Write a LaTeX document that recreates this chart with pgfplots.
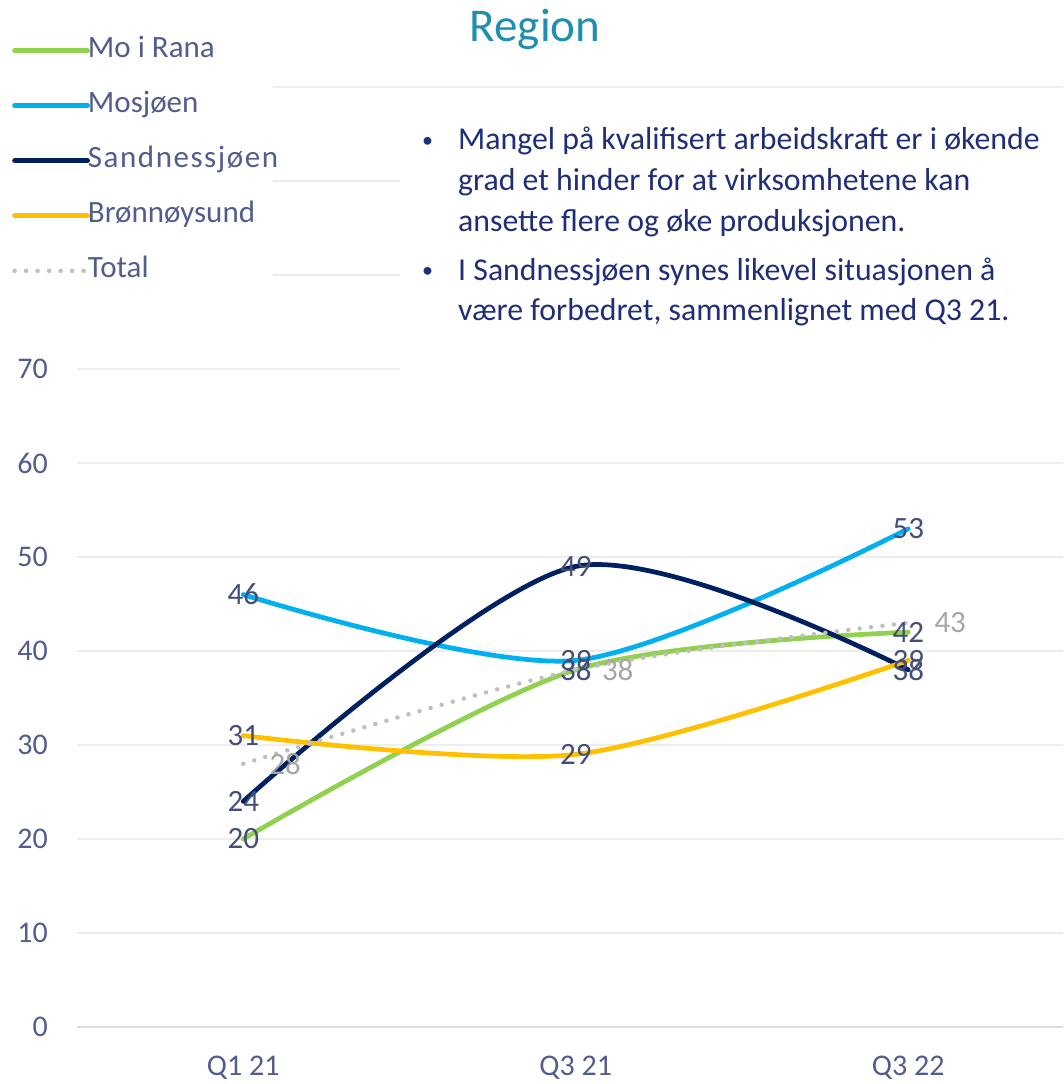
\documentclass[border=0pt]{standalone}
\usepackage{fontspec}
\setmainfont{Carlito}
\usepackage{pgfplots}
\pgfplotsset{compat=1.18}
\definecolor{cgreen}{HTML}{92D050}
\definecolor{cblue}{HTML}{00B0F0}
\definecolor{cnavy}{HTML}{002060}
\definecolor{cyellow}{HTML}{FFC000}
\definecolor{cgray}{HTML}{BFBFBF}
\definecolor{labgray}{HTML}{A6A6A6}
\definecolor{ticktext}{RGB}{83,93,140}
\definecolor{labtext}{RGB}{68,78,120}
\definecolor{titlecol}{RGB}{31,143,176}
\definecolor{bulletcol}{RGB}{32,46,120}
\definecolor{gridcol}{HTML}{EDEDED}
\definecolor{zerocol}{HTML}{D9DCE6}
\newcommand{\bul}{{\fontsize{22}{22}\selectfont\hspace*{3pt}\raisebox{2.5pt}{•}}}
\begin{document}
\begin{tikzpicture}[x=1pt,y=1pt]
\path[use as bounding box] (0,0) rectangle (1063,1084);
\begin{axis}[
  at={(77pt,57pt)}, anchor=south west,
  scale only axis, width=986pt, height=940pt,
  xmin=-0.5, xmax=2.4654, ymin=0, ymax=100,
  axis line style={draw=none},
  ytick={0,10,...,70}, extra y ticks={80,90,100}, extra y tick labels={},
  ymajorgrids, major grid style={gridcol, line width=1.5pt},
  xtick={0,1,2}, xticklabels={Q1 21, Q3 21, Q3 22},
  major tick length=0pt,
  tick label style={font=\fontsize{30}{36}\selectfont, text=ticktext},
  /pgf/number format/assume math mode=true,
  yticklabel style={inner sep=0pt, xshift=-29pt},
  xticklabel style={inner sep=0pt, yshift=-29pt},
  legend style={at={(axis description cs:-0.0659,1.0541)}, anchor=north west,
    draw=none, fill=none, inner sep=0pt, row sep=26pt, column sep=-2pt,
    font=\fontsize{31}{37}\selectfont, text=ticktext,
    nodes={inner sep=0pt, text height=21pt, text depth=8pt}},
  legend cell align=left,
  legend image code/.code={\draw[#1] (0pt,0pt) -- (73pt,0pt);},
  every node near coord/.append style={anchor=center, inner sep=0pt, font=\fontsize{31}{37}\selectfont, text=labtext},
]
\fill[white] (axis cs:-0.5,75) rectangle (axis cs:0.0895,101);
\fill[white] (axis cs:0.4714,68.6) rectangle (axis cs:2.5,99.2);
\draw[zerocol, line width=2pt] (axis cs:-0.5,0) -- (axis cs:2.5,0);
\addplot[cgreen, line width=4.75pt, line cap=round, smooth, nodes near coords] coordinates {(0,20)(1,38)(2,42)};
\addlegendentry{Mo i Rana}
\addplot[cblue, line width=4.75pt, line cap=round, smooth, nodes near coords] coordinates {(0,46)(1,39)(2,53)};
\addlegendentry{Mosjøen}
\addplot[cnavy, line width=4.75pt, line cap=round, smooth, nodes near coords] coordinates {(0,24)(1,49)(2,38)};
\addlegendentry{{\addfontfeature{LetterSpace=5}Sandnessjøen}}
\addplot[cyellow, line width=4.75pt, line cap=round, smooth, nodes near coords] coordinates {(0,31)(1,29)(2,39)};
\addlegendentry{Brønnøysund}
\addplot[cgray, line width=4.5pt, line cap=round, dash pattern=on 0pt off 11.5pt, smooth, nodes near coords,
  every node near coord/.append style={anchor=west, xshift=24pt, text=labgray}] coordinates {(0,28)(1,38)(2,43)};
\addlegendentry{Total}
\end{axis}
\node[anchor=base, inner sep=0pt, text=titlecol, font=\fontsize{47}{56}\selectfont] at (535,1042) {Region};
\node[anchor=base west, inner sep=0pt, text=bulletcol, font=\fontsize{31.8}{40.7}\selectfont] at (419,934) {%
\begin{tabular}[t]{@{}p{39pt}@{}l@{}}
\bul & Mangel på kvalifisert arbeidskraft er i økende\\
  & grad et hinder for at virksomhetene kan\\
  & ansette flere og øke produksjonen.\\[8.2pt]
\bul & I Sandnessjøen synes likevel situasjonen å\\
  & være forbedret, sammenlignet med Q3 21.
\end{tabular}};
\end{tikzpicture}
\end{document}
